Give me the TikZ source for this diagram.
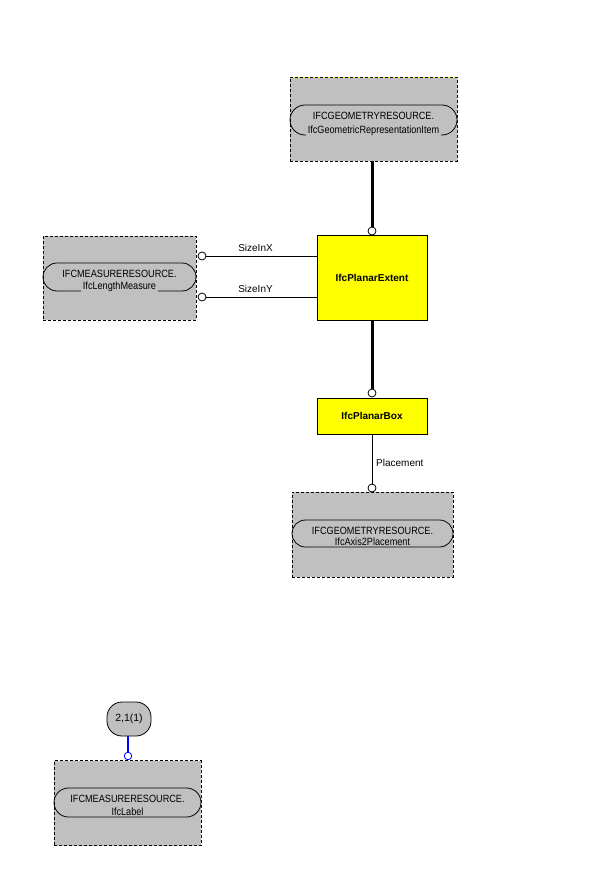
\documentclass[tikz,border=0pt]{standalone}
\usepackage{fontspec}
\setmainfont{Liberation Sans}
\newfontfamily\pillfont[FakeStretch=0.87]{Liberation Sans}
\definecolor{boxgray}{HTML}{C0C0C0}
\definecolor{entyellow}{HTML}{FFFF00}
\definecolor{relblue}{HTML}{0000FF}
\begin{document}
\begin{tikzpicture}[x=1pt,y=-1pt,
  extbox/.style={draw, fill=boxgray, line width=0.8pt, dash pattern=on 3pt off 2pt, inner sep=0pt, outer sep=0pt},
  entbox/.style={draw, fill=entyellow, line width=1pt, inner sep=0pt, outer sep=0pt, font=\fontsize{10}{12}\selectfont\bfseries},
  pillline/.style={draw, line width=0.8pt},
  pilltxt/.style={font=\fontsize{10.5}{12}\selectfont\pillfont, inner sep=0pt},
  pillname/.style={font=\fontsize{10.5}{12}\selectfont\pillfont, fill=boxgray, inner xsep=2pt, inner ysep=0pt, anchor=base},
  conn/.style={circle, draw, fill=white, line width=0.8pt, minimum size=8pt, inner sep=0pt, outer sep=0pt},
  lbl/.style={font=\fontsize{10}{12}\selectfont, inner sep=0pt},
  thickrel/.style={line width=3pt},
  thinrel/.style={line width=1pt}
]
\useasboundingbox[fill=white] (0,0) rectangle (600,888);

% ---- IfcGeometricRepresentationItem (top)
\node[extbox, minimum width=167pt, minimum height=84pt] (geo) at (373.5,119) {};
\draw[entyellow, line width=0.8pt] (geo.north west) -- (geo.north east) -- (geo.south east);
\draw[line width=0.8pt, dash pattern=on 3pt off 2pt] (geo.north west) -- (geo.north east) -- (geo.south east);
\draw[pillline, rounded corners=15pt] (290,105) rectangle (457,135);
\node[pilltxt] (geoa) at (373.5,116) {IFCGEOMETRYRESOURCE.};
\node[pillname] (geob) at (373.5,133.5) {IfcGeometricRepresentationItem};

% ---- IfcPlanarExtent
\node[entbox, minimum width=110pt, minimum height=85pt] (extent) at (372,277.5) {IfcPlanarExtent};
\node[conn] (c1) at (372,231) {};
\draw[thickrel] (c1.north) -- (c1.north |- geo.south);

% ---- IfcLengthMeasure (left)
\node[extbox, minimum width=153pt, minimum height=84pt] (len) at (119.5,278) {};
\draw[pillline, rounded corners=14pt] (43,263) rectangle (196,291);
\node[pilltxt] (lena) at (119.5,274) {IFCMEASURERESOURCE.};
\node[pillname] (lenb) at (119.5,289.5) {IfcLengthMeasure};

\node[conn] (cx) at (202,256) {};
\node[conn] (cy) at (202,297) {};
\draw[thinrel] (cx.east) -- (cx.east -| extent.west);
\draw[thinrel] (cy.east) -- (cy.east -| extent.west);
\node[lbl] (sx) at (255.5,248) {SizeInX};
\node[lbl] (sy) at (255.5,289) {SizeInY};

% ---- IfcPlanarBox
\node[entbox, minimum width=110pt, minimum height=36pt] (pbox) at (372,416) {IfcPlanarBox};
\node[conn] (c2) at (372,393) {};
\draw[thickrel] (extent.south) -- (c2.north);

% ---- IfcAxis2Placement
\node[extbox, minimum width=161pt, minimum height=85pt] (axis) at (372.5,534.5) {};
\draw[pillline, rounded corners=13.5pt] (292,520) rectangle (453,547);
\node[pilltxt] (axisa) at (372.5,531) {IFCGEOMETRYRESOURCE.};
\node[pillname] (axisb) at (372.5,545.5) {IfcAxis2Placement};
\node[conn] (c3) at (372,488) {};
\draw[thinrel] (pbox.south) -- (c3.north);
\node[lbl, anchor=west] (pl) at (376,463) {Placement};

% ---- IfcLabel (bottom)
\node[draw, fill=boxgray, line width=0.8pt, rounded corners=15pt, minimum width=44pt, minimum height=34pt, inner sep=0pt, outer sep=0pt, font=\fontsize{10.5}{12}\selectfont] (ref) at (129,719) {2,1(1)};
\node[extbox, minimum width=147pt, minimum height=85pt] (lab) at (127.5,803) {};
\draw[pillline, rounded corners=14.5pt] (54,788) rectangle (201,817);
\node[pilltxt] (laba) at (127.5,799) {IFCMEASURERESOURCE.};
\node[pillname] (labb) at (127.5,815.5) {IfcLabel};
\node[conn, draw=relblue, minimum size=7.5pt] (c4) at (128,756) {};
\draw[relblue, line width=2pt] (c4.north) -- (c4.north |- ref.south);
\end{tikzpicture}
\end{document}
